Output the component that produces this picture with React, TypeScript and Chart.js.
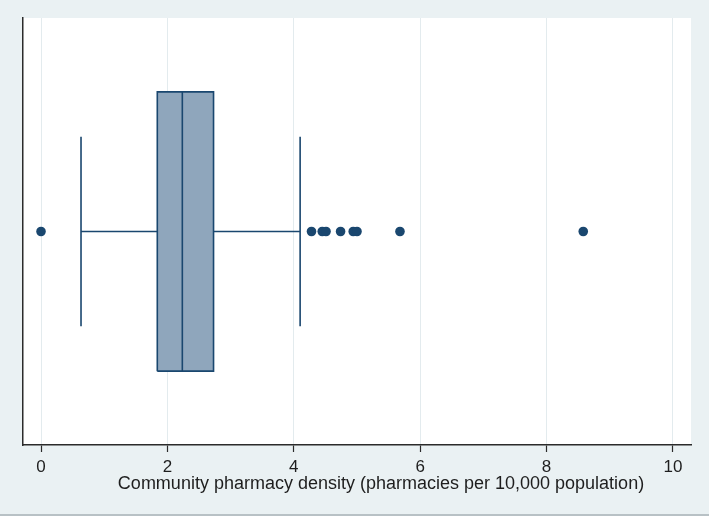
import React, { useEffect, useRef } from "react";
import { Chart, registerables } from "chart.js";

Chart.register(...registerables);

// ---- data ----
const xTickValues = [0, 2, 4, 6, 8, 10];
const outlierValues = [0, 4.28, 4.45, 4.51, 4.74, 4.94, 5.0, 5.68, 8.58];
const lowerWhisker = 0.633;
const quartile1 = 1.84;
const medianValue = 2.236;
const quartile3 = 2.73;
const upperWhisker = 4.1;
const xAxisTitle = "Community pharmacy density (pharmacies per 10,000 population)";

// ---- styling ----
const NAVY = "#1a476f";
const BOX_FILL = "#8fa6bc";
const PAGE_BG = "#eaf1f3";
const GRID = "#e3ebee";
const AXIS = "#2b2b2b";
const TEXT = "#1e1e1e";
const FONT = "'Liberation Sans', Arial, sans-serif";
const CENTER = 0.5;
const BOX_HALF = 0.327;
const CAP_HALF = 0.222;
const TITLE_SHIFT = 24;
const TITLE_DY = 39;

const plotBg = {
  id: "plotBg",
  beforeDraw(chart: any) {
    const { ctx, chartArea } = chart;
    if (!chartArea) return;
    ctx.save();
    ctx.fillStyle = "#ffffff";
    ctx.fillRect(chartArea.left, chartArea.top, chartArea.right - chartArea.left, chartArea.bottom - chartArea.top);
    ctx.restore();
  },
};

const axisTitle = {
  id: "axisTitle",
  afterDraw(chart: any) {
    const { ctx, chartArea, scales } = chart;
    const xs = scales.x;
    ctx.save();
    ctx.fillStyle = TEXT;
    ctx.font = `18px ${FONT}`;
    ctx.textAlign = "center";
    ctx.textBaseline = "middle";
    ctx.fillText(xAxisTitle, (chartArea.left + chartArea.right) / 2 + TITLE_SHIFT, xs.top + TITLE_DY);
    ctx.restore();
  },
};

export default function App() {
  const ref = useRef<HTMLCanvasElement | null>(null);

  useEffect(() => {
    if (!ref.current) return;
    const lineDs = (data: { x: number; y: number }[]) => ({
      data,
      borderColor: NAVY,
      borderWidth: 1.6,
      pointRadius: 0,
      fill: false,
      tension: 0,
      order: 0,
    });
    const chart = new Chart(ref.current, {
      type: "line",
      data: {
        datasets: [
          {
            data: [
              { x: quartile1, y: CENTER + BOX_HALF },
              { x: quartile3, y: CENTER + BOX_HALF },
            ],
            borderWidth: 0,
            pointRadius: 0,
            backgroundColor: BOX_FILL,
            fill: "+1",
            order: 10,
          },
          {
            data: [
              { x: quartile1, y: CENTER - BOX_HALF },
              { x: quartile3, y: CENTER - BOX_HALF },
            ],
            borderWidth: 0,
            pointRadius: 0,
            fill: false,
            order: 10,
          },
          lineDs([
            { x: quartile1, y: CENTER - BOX_HALF },
            { x: quartile1, y: CENTER + BOX_HALF },
            { x: quartile3, y: CENTER + BOX_HALF },
            { x: quartile3, y: CENTER - BOX_HALF },
            { x: quartile1, y: CENTER - BOX_HALF },
          ]),
          lineDs([
            { x: medianValue, y: CENTER - BOX_HALF },
            { x: medianValue, y: CENTER + BOX_HALF },
          ]),
          lineDs([
            { x: lowerWhisker, y: CENTER - CAP_HALF },
            { x: lowerWhisker, y: CENTER + CAP_HALF },
            { x: lowerWhisker, y: CENTER },
            { x: quartile1, y: CENTER },
          ]),
          lineDs([
            { x: upperWhisker, y: CENTER - CAP_HALF },
            { x: upperWhisker, y: CENTER + CAP_HALF },
            { x: upperWhisker, y: CENTER },
            { x: quartile3, y: CENTER },
          ]),
          {
            data: outlierValues.map((v) => ({ x: v, y: CENTER })),
            showLine: false,
            pointRadius: 4.8,
            pointBorderWidth: 0,
            pointBackgroundColor: NAVY,
            borderColor: NAVY,
            order: 0,
          } as any,
        ],
      },
      options: {
        responsive: false,
        animation: false,
        events: [],
        layout: { padding: { left: 23, right: 18, top: 18, bottom: 34 } },
        plugins: {
          legend: { display: false },
          tooltip: { enabled: false },
          filler: { drawTime: "beforeDatasetsDraw" } as any,
        },
        scales: {
          x: {
            type: "linear",
            min: -0.285,
            max: 10.285,
            afterBuildTicks: (s: any) => {
              s.ticks = xTickValues.map((v) => ({ value: v }));
            },
            grid: { color: GRID, lineWidth: 1, drawTicks: true, tickLength: 7, tickColor: AXIS, tickWidth: 1.2 },
            border: { display: true, color: AXIS, width: 1.5 },
            ticks: {
              color: TEXT,
              padding: 6.5,
              maxRotation: 0,
              font: { family: FONT, size: 17, lineHeight: 1 },
            },
            title: { display: false },
          },
          y: {
            type: "linear",
            min: 0,
            max: 1,
            ticks: { display: false },
            grid: { display: false, drawTicks: false, tickLength: 0 },
            border: { display: true, color: AXIS, width: 1.5 },
          },
        },
      } as any,
      plugins: [plotBg, axisTitle],
    });
    return () => chart.destroy();
  }, []);

  return (
    <div
      style={{
        position: "fixed",
        left: 0,
        top: 0,
        width: 709,
        height: 516,
        background: PAGE_BG,
        overflow: "hidden",
      }}
    >
      <canvas ref={ref} width={709} height={516} style={{ display: "block" }} />
      <div style={{ position: "absolute", left: 0, bottom: 0, width: 709, height: 2, background: "#b8c1c5" }} />
    </div>
  );
}
